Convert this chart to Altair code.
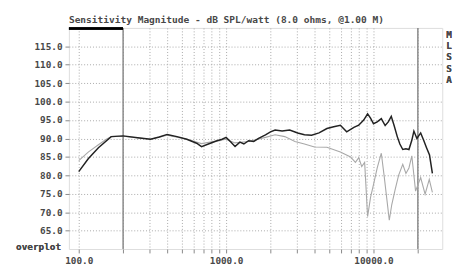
import altair as alt
import pandas as pd

# ---- data ----
dark_freq = [100, 116, 136, 166, 200, 251, 307, 352, 398, 464, 541, 631, 681, 758, 858, 940,
             1000, 1080, 1150, 1240, 1320, 1420, 1540, 1660, 1850, 2000, 2150, 2400, 2700,
             3060, 3400, 3800, 4270, 4830, 5370, 5960, 6580, 7360, 7940, 8580, 9120, 9550,
             10000, 10600, 11300, 12000, 12600, 13200, 13800, 14500, 15100, 15800, 16600,
             17400, 18200, 18800, 19700, 20900, 21900, 22900, 24000, 25100]
dark_db = [81.0, 84.5, 87.5, 90.5, 90.7, 90.2, 89.8, 90.4, 91.1, 90.5, 89.8, 88.7, 87.8, 88.5,
           89.3, 89.8, 90.3, 89.0, 87.8, 89.0, 88.5, 89.4, 89.2, 90.0, 91.0, 91.8, 92.3, 92.0,
           92.3, 91.5, 91.0, 90.9, 91.5, 92.7, 93.2, 93.6, 91.8, 93.0, 93.6, 95.0, 96.7, 95.5,
           94.0, 94.5, 95.4, 93.5, 94.5, 96.0, 93.5, 90.5, 88.5, 87.0, 87.2, 87.0, 89.5, 92.0,
           90.0, 91.5, 89.5, 87.5, 85.5, 80.5]

gray_freq = [100, 116, 136, 154, 166, 200, 307, 398, 541, 681, 1000, 1150, 1420, 1850, 2150,
             2500, 2930, 3400, 3980, 4830, 5960, 6990, 7540, 7940, 8320, 8710, 9120, 9550,
             10000, 10600, 11300, 11800, 12800, 13300, 14000, 14800, 15800, 16600, 17400,
             18200, 19300, 20900, 22400, 23900, 25100]
gray_db = [84.0, 86.3, 88.3, 89.8, 90.5, 90.6, 89.8, 90.9, 89.8, 88.6, 89.8, 88.8, 89.2, 90.3,
           91.0, 90.5, 89.2, 88.5, 87.7, 87.6, 86.3, 85.0, 83.5, 84.8, 82.4, 83.5, 68.8, 74.0,
           77.5, 82.0, 86.0, 80.0, 67.8, 72.0, 76.0, 80.0, 83.0, 80.5, 82.0, 85.3, 75.7, 79.4,
           74.9, 78.9, 75.4]

y_ticks = [65, 70, 75, 80, 85, 90, 95, 100, 105, 110, 115]
x_ticks = [100, 200, 300, 400, 500, 600, 700, 800, 900,
           1000, 2000, 3000, 4000, 5000, 6000, 7000, 8000, 9000,
           10000, 20000]
marker_freqs = [200, 20000]

title_text = "Sensitivity Magnitude - dB SPL/watt (8.0 ohms, @1.00 M)"
side_text = "M\nL\nS\nS\nA"
corner_text = "overplot"

FONT = "DejaVu Sans Mono"
TXT = "#484848"

dark_df = pd.DataFrame({"f": dark_freq, "db": dark_db})
gray_df = pd.DataFrame({"f": gray_freq, "db": gray_db})
mark_df = pd.DataFrame({"f": marker_freqs})

xscale = alt.Scale(type="log", domain=[85.77, 29286], nice=False)
yscale = alt.Scale(domain=[60, 120], nice=False, zero=False)

xaxis = alt.Axis(values=x_ticks, title=None, grid=True, gridDash=[1, 2], gridColor="#a8a8a8",
                 labelExpr="(datum.value == 100 || datum.value == 1000 || datum.value == 10000) ? format(datum.value, '.1f') : ''",
                 tickSize=4, tickColor="#888", domain=False, labelFont=FONT, labelFontSize=9.5,
                 labelFontWeight="bold", labelColor=TXT, labelPadding=3, labelFlush=False,
                 labelOverlap=False)
yaxis = alt.Axis(values=y_ticks, title=None, grid=True, gridDash=[1, 2], gridColor="#a8a8a8",
                 format=".1f", tickSize=4, tickColor="#888", domain=False, labelFont=FONT,
                 labelFontSize=9.5, labelFontWeight="bold", labelColor=TXT, labelPadding=3,
                 labelOverlap=False, labelBound=False)

X = alt.X("f:Q", scale=xscale, axis=xaxis)
Y = alt.Y("db:Q", scale=yscale, axis=yaxis)

gray_line = alt.Chart(gray_df).mark_line(color="#a8a8a8", strokeWidth=1.1).encode(x=X, y=Y)
dark_line = alt.Chart(dark_df).mark_line(color="#222222", strokeWidth=1.5).encode(x=X, y=Y)
markers = alt.Chart(mark_df).mark_rule(color="#8a8a8a", strokeWidth=1.5).encode(x=X)
top_bar = alt.Chart(mark_df).mark_rule(color="black", strokeWidth=2.5).encode(
    x=alt.value(0), x2=alt.value(55), y=alt.value(0.5)
)
side = alt.Chart(mark_df).mark_text(font=FONT, fontSize=9.5, fontWeight="bold", color=TXT,
                                     lineBreak="\n", lineHeight=11.5, baseline="top",
                                     align="center").encode(
    x=alt.value(387), y=alt.value(2), text=alt.value(side_text)
)
corner = alt.Chart(mark_df).mark_text(font=FONT, fontSize=9.5, fontWeight="bold", color=TXT,
                                       align="right", baseline="middle").encode(
    x=alt.value(-8), y=alt.value(223), text=alt.value(corner_text)
)

chart = alt.layer(markers, gray_line, dark_line, top_bar, side, corner).properties(
    width=380, height=225,
    title=alt.TitleParams(title_text, anchor="start", frame="group", font=FONT, fontSize=9.7,
                          fontWeight="bold", color=TXT, offset=3),
    autosize=alt.AutoSizeParams(type="none"),
    padding={"left": 62, "top": 18, "right": 15, "bottom": 14},
).configure_view(stroke="#8a8a8a", strokeWidth=1.2).configure(background="white")

chart.save("out.html", embed_options={"renderer": "svg", "actions": False})
